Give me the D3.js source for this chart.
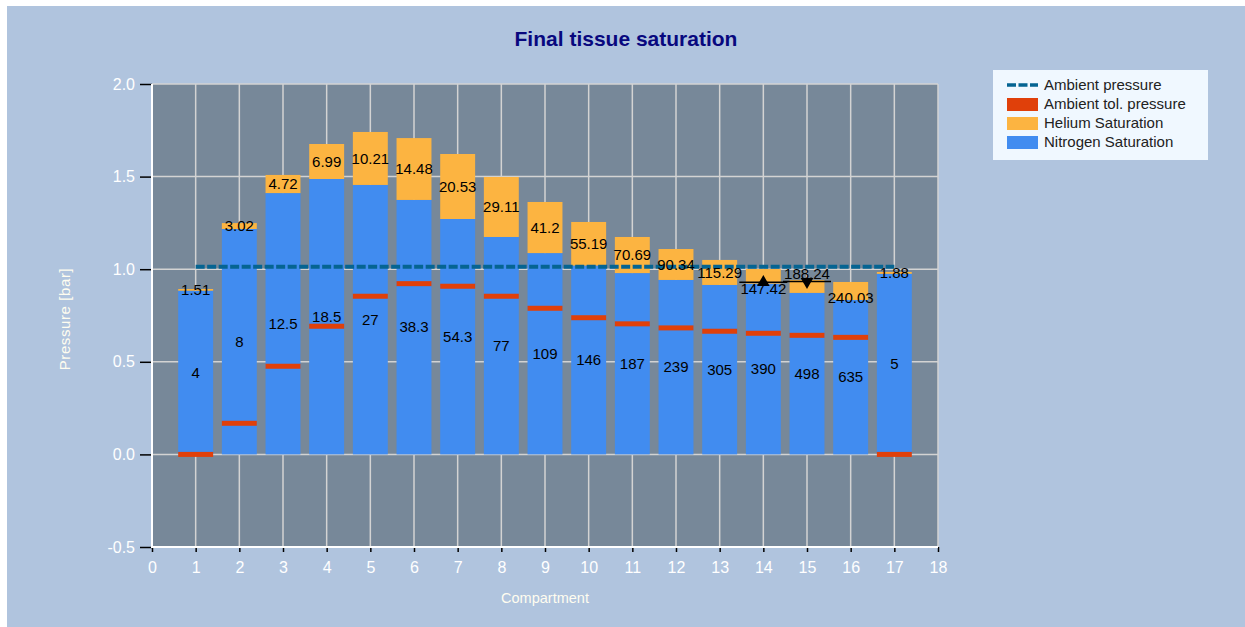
<!DOCTYPE html>
<html>
<head>
<meta charset="utf-8">
<script src="https://cdn.jsdelivr.net/npm/d3@7"></script>
<style>
  body { margin: 0; background: #fff; }
  text { font-family: "Liberation Sans", Arial, sans-serif; }
</style>
</head>
<body>
<div id="chart"></div>
<script>
// data
var compartments = [1, 2, 3, 4, 5, 6, 7, 8, 9, 10, 11, 12, 13, 14, 15, 16, 17];
var nitrogen = [0.884, 1.217, 1.411, 1.487, 1.455, 1.374, 1.271, 1.174, 1.087, 1.02, 0.979, 0.942, 0.915, 0.922, 0.872, 0.834, 0.975];
var helium = [0.009, 0.032, 0.098, 0.189, 0.286, 0.334, 0.351, 0.324, 0.276, 0.235, 0.195, 0.167, 0.135, 0.079, 0.07, 0.097, 0.01];
var ambientTol = [0.0, 0.168, 0.476, 0.692, 0.854, 0.922, 0.908, 0.854, 0.789, 0.738, 0.705, 0.683, 0.665, 0.654, 0.643, 0.632, 0.0];
var ambientPressure = 1.013;
var nitrogenLabels = ["4", "8", "12.5", "18.5", "27", "38.3", "54.3", "77", "109", "146", "187", "239", "305", "390", "498", "635", "5"];
var heliumLabels = ["1.51", "3.02", "4.72", "6.99", "10.21", "14.48", "20.53", "29.11", "41.2", "55.19", "70.69", "90.34", "115.29", "147.42", "188.24", "240.03", "1.88"];
var markerComps = [14, 15];
var markerValues = [0.929, 0.933];
var markerDirs = ["up", "down"];
var xTicks = d3.range(0, 19);
var yTicks = [-0.5, 0, 0.5, 1.0, 1.5, 2.0];
var legendItems = ["Ambient pressure", "Ambient tol. pressure", "Helium Saturation", "Nitrogen Saturation"];

// layout
var W = 1245, H = 627;
var margin = { top: 84, left: 152 },
  width = 786,
  height = 463;
var colN = "#418CF0", colHe = "#FCB441", colTol = "#E0400A", colAmb = "#056492";
// helium labels nudged where they collide with the markers
var heLabelShift = { 14: 12, 15: -13, 16: 7 };

var svg = d3.select("#chart").append("svg").attr("width", W).attr("height", H);

svg.append("rect").attr("x", 7).attr("y", 6).attr("width", W - 7).attr("height", H - 6).attr("fill", "#B0C4DE");

svg.append("text")
  .attr("x", 626).attr("y", 46)
  .attr("text-anchor", "middle")
  .style("font-size", "21px").style("font-weight", "bold")
  .style("fill", "#08087E")
  .text("Final tissue saturation");

var g = svg.append("g").attr("transform", "translate(" + margin.left + "," + margin.top + ")");

var x = d3.scaleLinear().domain([0, 18]).range([0, width]);
var y = d3.scaleLinear().domain([-0.5, 2.0]).range([height, 0]);
var bw = x(0.8) - x(0);

g.append("rect").attr("width", width).attr("height", height).attr("fill", "#778899");

// grid
g.selectAll(".vgrid").data(xTicks.slice(1)).enter().append("line")
  .attr("x1", (d) => x(d)).attr("x2", (d) => x(d))
  .attr("y1", 0).attr("y2", height)
  .attr("stroke", "#D3D3D3").attr("stroke-width", 1.5);
g.selectAll(".hgrid").data(yTicks.slice(1)).enter().append("line")
  .attr("x1", 0).attr("x2", width)
  .attr("y1", (d) => y(d)).attr("y2", (d) => y(d))
  .attr("stroke", "#D3D3D3").attr("stroke-width", 1.5);

// stacked bars
g.selectAll(".barN").data(compartments).enter().append("rect")
  .attr("x", (d) => x(d) - bw / 2).attr("width", bw)
  .attr("y", (d, i) => y(nitrogen[i]))
  .attr("height", (d, i) => y(0) - y(nitrogen[i]))
  .attr("fill", colN);
g.selectAll(".barHe").data(compartments).enter().append("rect")
  .attr("x", (d) => x(d) - bw / 2).attr("width", bw)
  .attr("y", (d, i) => y(nitrogen[i] + helium[i]))
  .attr("height", (d, i) => y(nitrogen[i]) - y(nitrogen[i] + helium[i]))
  .attr("fill", colHe);
g.selectAll(".tol").data(compartments).enter().append("rect")
  .attr("x", (d) => x(d) - bw / 2).attr("width", bw)
  .attr("y", (d, i) => y(ambientTol[i]) - 2.5)
  .attr("height", 5)
  .attr("fill", colTol);

// ambient pressure line
g.append("line")
  .attr("x1", x(compartments[0])).attr("x2", x(compartments[compartments.length - 1]))
  .attr("y1", y(ambientPressure)).attr("y2", y(ambientPressure))
  .attr("stroke", colAmb).attr("stroke-width", 4)
  .attr("stroke-dasharray", "9,2.5");

// markers
markerComps.forEach(function (c, i) {
  g.append("line")
    .attr("x1", x(c - 0.55)).attr("x2", x(c + 0.55))
    .attr("y1", y(markerValues[i])).attr("y2", y(markerValues[i]))
    .attr("stroke", "#000").attr("stroke-width", 1.5);
  g.append("path")
    .attr("d", d3.symbol().type(d3.symbolTriangle).size(70)())
    .attr("transform", "translate(" + x(c) + "," + y(markerValues[i]) + ")" + (markerDirs[i] === "down" ? " rotate(180)" : ""))
    .attr("fill", "#000");
});

// value labels
g.selectAll(".labN").data(compartments).enter().append("text")
  .attr("x", (d) => x(d))
  .attr("y", (d, i) => (y(0) + y(nitrogen[i])) / 2)
  .attr("dy", "0.35em").attr("text-anchor", "middle")
  .style("font-size", "15px").style("fill", "#000")
  .text((d, i) => nitrogenLabels[i]);
g.selectAll(".labHe").data(compartments).enter().append("text")
  .attr("x", (d) => x(d))
  .attr("y", (d, i) => (y(nitrogen[i]) + y(nitrogen[i] + helium[i])) / 2 + (heLabelShift[d] || 0))
  .attr("dy", "0.35em").attr("text-anchor", "middle")
  .style("font-size", "15px").style("fill", "#000")
  .text((d, i) => heliumLabels[i]);

// axes
var yAxis = g.append("g").call(d3.axisLeft(y).tickValues(yTicks).tickFormat((d) => d.toFixed(1)).tickSize(12).tickPadding(5));
var xAxis = g.append("g").attr("transform", "translate(0," + height + ")")
  .call(d3.axisBottom(x).tickValues(xTicks).tickFormat(d3.format("d")).tickSize(5).tickPadding(10));
[yAxis, xAxis].forEach(function (ax) {
  ax.select(".domain").remove();
  ax.selectAll(".tick line").attr("stroke", "#000").attr("stroke-width", 1.5);
  ax.selectAll(".tick text").style("font-size", "16px").style("fill", "#fff")
    .style("font-family", "'Liberation Sans', Arial, sans-serif");
});
g.append("line").attr("x1", 0).attr("x2", 0).attr("y1", 0).attr("y2", height + 1).attr("stroke", "#fff").attr("stroke-width", 2);
g.append("line").attr("x1", -1).attr("x2", width).attr("y1", height).attr("y2", height).attr("stroke", "#fff").attr("stroke-width", 2);

svg.append("text")
  .attr("x", margin.left + width / 2).attr("y", 603)
  .attr("text-anchor", "middle")
  .style("font-size", "14.5px").style("fill", "#FFFDF0")
  .text("Compartment");
svg.append("text")
  .attr("transform", "translate(70,319) rotate(-90)")
  .attr("text-anchor", "middle")
  .style("font-size", "15px").style("letter-spacing", "0.6px").style("fill", "#FFFDF0")
  .text("Pressure [bar]");

// legend
var lg = svg.append("g").attr("transform", "translate(993,70)");
lg.append("rect").attr("width", 215).attr("height", 90).attr("fill", "#F0F8FF");
legendItems.forEach(function (name, i) {
  var cy = 15 + i * 19;
  if (i === 0) {
    lg.append("line").attr("x1", 14).attr("x2", 45).attr("y1", cy).attr("y2", cy)
      .attr("stroke", colAmb).attr("stroke-width", 3.5).attr("stroke-dasharray", "9,2.5");
  } else {
    lg.append("rect").attr("x", 14).attr("y", cy - 6).attr("width", 31).attr("height", 13)
      .attr("fill", [colTol, colHe, colN][i - 1]);
  }
  lg.append("text").attr("x", 51).attr("y", cy).attr("dy", "0.35em")
    .style("font-size", "15px").style("fill", "#222").text(name);
});
</script>
</body>
</html>
